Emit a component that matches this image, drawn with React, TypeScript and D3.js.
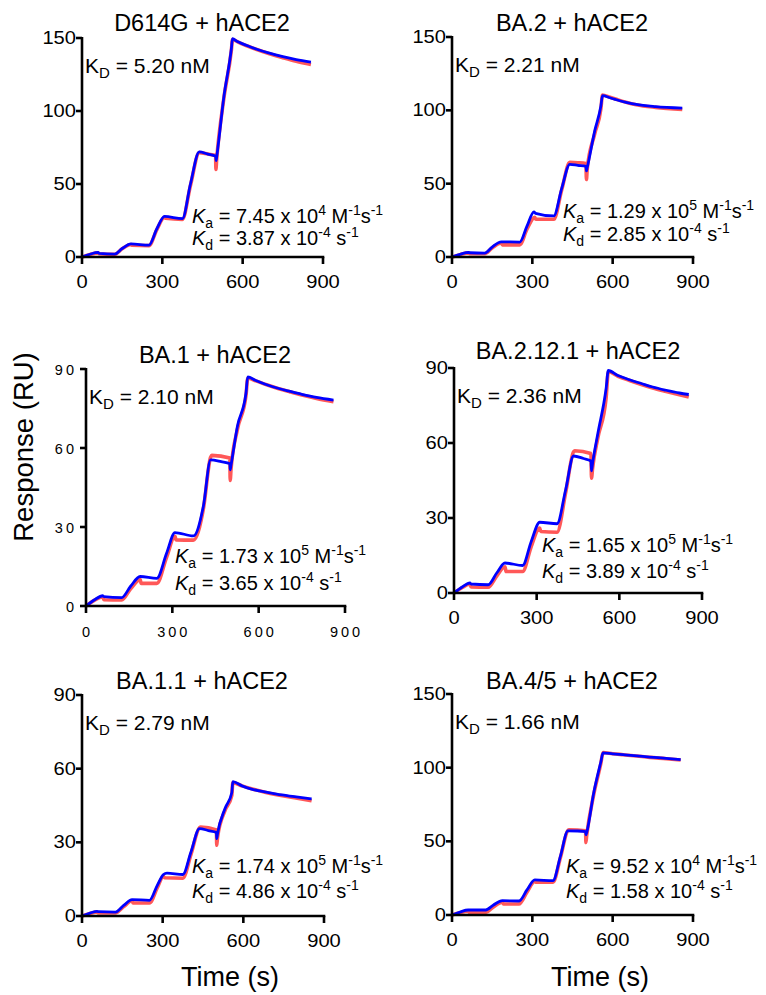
import React from "react";
import * as d3 from "d3";

// ---- chart values ----
const xTicks = [0, 300, 600, 900];
const yTicks150 = [0, 50, 100, 150];
const yTicks90 = [0, 30, 60, 90];

const titles = ["D614G + hACE2", "BA.2 + hACE2", "BA.1 + hACE2", "BA.2.12.1 + hACE2", "BA.1.1 + hACE2", "BA.4/5 + hACE2"];
const kdValues = ["5.20", "2.21", "2.10", "2.36", "2.79", "1.66"];
const kaMantissa = ["7.45", "1.29", "1.73", "1.65", "1.74", "9.52"];
const kaExponent = ["4", "5", "5", "5", "5", "4"];
const kdMantissa = ["3.87", "2.85", "3.65", "3.89", "4.86", "1.58"];
const yMaxes = [150, 150, 90, 90, 90, 150];

// [time (s), response (RU)]
const blueD614G = [[0,0],[30,1.9],[60,3.1],[64,2.5],[122,2.0],[150,5.8],[183,9.0],[250,8.1],[280,19.5],[308,27.8],[375,26.3],[405,50],[438,72],[470,70.5],[499,69],[501,66],[503,68.5],[530,110],[558,143],[562,149.5],[580,147.6],[600,146],[625,144.2],[650,142.5],[700,139.6],[750,137.2],[800,135.2],[855,133.5]];
const redD614G = [[0,0],[30,1.7],[60,2.8],[64,2.2],[122,1.8],[150,5.6],[183,8.6],[186,8.0],[250,7.8],[280,19],[308,27.2],[312,26.5],[375,25.8],[405,49],[438,71.5],[470,70.5],[499,69.5],[500,60],[503,67],[530,109],[558,142],[562,149],[580,147.5],[600,145.8],[625,144],[650,142.3],[700,139.2],[750,136.5],[800,134],[855,131.8]];

const blueBA2 = [[0,0],[30,1.8],[62,3.2],[66,2.9],[122,2.7],[150,6.8],[184,10.3],[253,10.2],[280,21],[306,30.8],[312,29.8],[380,28],[410,47],[440,63.2],[470,62.5],[500,61.8],[502,58.7],[505,61],[533,86],[556,103],[562,110],[590,108.6],[614,107.2],[650,105.5],[688,104],[760,102.5],[860,101.5]];
const redBA2 = [[0,0],[30,1.6],[62,2.8],[66,2.2],[122,2.2],[150,6.2],[184,9.5],[188,8.3],[253,8.3],[280,19],[309,27],[313,25.7],[380,25.7],[410,46],[440,64.5],[470,64.3],[500,63.8],[502,52.8],[505,60],[533,84],[556,101],[562,110.5],[590,108.9],[614,107.5],[650,105.5],[688,103.8],[760,102],[860,100.6]];

const blueBA1 = [[0,0],[30,2.4],[58,3.9],[62,3.6],[124,3.2],[155,7.5],[188,11.2],[246,10.5],[280,20],[309,27.9],[373,26.6],[408,38],[433,55.5],[470,54.8],[500,54],[501,51.7],[504,53.5],[526,68.2],[556,80.9],[562,87],[590,85.6],[628,84],[670,82.6],[709,81.5],[750,80.4],[801,79.2],[860,78.2]];
const redBA1 = [[0,0],[30,2.2],[58,3.4],[62,2.4],[124,2.3],[155,6.5],[188,10],[192,8.6],[246,8.6],[280,18.5],[309,26.5],[313,25.1],[373,25],[408,37],[433,56.5],[437,57.2],[500,56.2],[501,47.7],[504,52],[526,67],[556,80],[562,86.5],[590,85.5],[628,84],[670,82.5],[709,81.3],[750,80.1],[801,78.8],[860,77.6]];

const blueBA2121 = [[0,0],[30,2.4],[58,4.0],[62,3.6],[124,3.3],[155,8],[185,12],[249,11],[280,20.5],[311,28.3],[374,27.7],[405,41.2],[434,54.8],[470,53.8],[497,52.8],[499,48.9],[503,52],[522,63.8],[552,81.8],[560,89],[595,87],[637,85.3],[680,83.8],[721,82.4],[770,81.1],[818,80],[852,79.4]];
const redBA2121 = [[0,0],[30,2.2],[58,3.6],[62,2.4],[124,2.3],[155,6.8],[185,10.5],[189,8.6],[249,8.6],[280,18.5],[311,26],[315,24.6],[374,24.3],[405,40],[434,56.5],[438,56.9],[497,55.8],[499,45.9],[503,50],[522,62],[552,78],[560,88.5],[595,86.7],[637,85],[680,83.4],[721,82],[770,80.6],[818,79.3],[852,78.4]];

const blueBA11 = [[0,0],[30,1.2],[56,1.9],[60,1.8],[124,1.6],[155,4.3],[186,6.7],[251,6.4],[280,12.5],[303,16.9],[316,17.5],[375,16.9],[405,26],[437,35.6],[470,34.8],[500,34],[501,31.5],[504,33.5],[532,43.8],[557,50.2],[561,54.7],[595,53],[637,51.5],[680,50.5],[724,49.6],[790,48.6],[854,47.7]];
const redBA11 = [[0,0],[30,1.0],[56,1.6],[60,1.2],[124,1.2],[155,3.8],[186,6.2],[190,5.3],[251,5.3],[280,11.5],[303,16.2],[307,15.6],[375,15.4],[405,25],[437,36],[441,36.2],[500,35],[501,28.8],[504,32],[532,43],[557,49],[561,54.3],[595,53],[637,51.6],[680,50.4],[724,49.4],[790,48.2],[854,46.9]];

const blueBA45 = [[0,0],[30,2.0],[60,3.4],[126,3.4],[155,6.8],[188,9.7],[250,9.5],[280,17],[309,23.8],[377,23.3],[405,40],[433,57.1],[470,57],[499,56.6],[500,54.4],[503,56],[529,82.7],[556,104],[564,110],[600,109.4],[639,108.8],[690,108],[738,107.2],[800,106.3],[854,105.4]];
const redBA45 = [[0,0],[30,1.5],[60,2.5],[64,1.8],[126,1.8],[155,5.5],[188,8.7],[192,7.5],[250,7.5],[280,15.5],[309,22.8],[313,22.2],[377,22.2],[405,39],[433,57.5],[437,57.8],[499,57.2],[500,49.2],[503,54],[529,81.5],[556,103],[564,110.3],[600,109.5],[639,108.8],[690,107.9],[738,107],[800,106.1],[854,105.2]];

const blueSeries = [blueD614G, blueBA2, blueBA1, blueBA2121, blueBA11, blueBA45];
const redSeries = [redD614G, redBA2, redBA1, redBA2121, redBA11, redBA45];

// ---- layout (pixels) ----
const layout = [
  { x0: 82, x1: 323, top: 38, bottom: 257, titleX: 202, titleY: 31, kdX: 85, kaX: 192, kaDy: -34, kdDy: -12 },
  { x0: 452, x1: 693, top: 37, bottom: 257, titleX: 572, titleY: 31, kdX: 455, kaX: 563, kaDy: -39, kdDy: -16 },
  { x0: 86, x1: 345, top: 369, bottom: 606, titleX: 215, titleY: 363, kdX: 89, kaX: 175, kaDy: -43, kdDy: -16, spaced: true },
  { x0: 454, x1: 702, top: 368, bottom: 593, titleX: 578, titleY: 359, kdX: 457, kaX: 542, kaDy: -41, kdDy: -15 },
  { x0: 82, x1: 324, top: 695, bottom: 916, titleX: 202, titleY: 689, kdX: 85, kaX: 192, kaDy: -43, kdDy: -18 },
  { x0: 452, x1: 693, top: 694, bottom: 915, titleX: 572, titleY: 689, kdX: 455, kaX: 566, kaDy: -42, kdDy: -17 },
];

const FONT = "'Liberation Sans', Arial, Helvetica, sans-serif";
const TICK_SX = 1.15;

function Panel({ i }) {
  const L = layout[i];
  const x = d3.scaleLinear().domain([0, 900]).range([L.x0, L.x1]);
  const y = d3.scaleLinear().domain([0, yMaxes[i]]).range([L.bottom, L.top]);
  const line = d3.line().x((d) => x(d[0])).y((d) => y(d[1])).curve(d3.curveMonotoneX);
  const yTicks = yMaxes[i] === 150 ? yTicks150 : yTicks90;
  const tickFont = L.spaced ? 14.5 : 17.5;
  const spacing = L.spaced ? 3 : 0;
  const sx = L.spaced ? 1 : TICK_SX;

  return (
    <g>
      <text x={L.titleX} y={L.titleY} textAnchor="middle" fontSize={23.5}>{titles[i]}</text>

      <path d={line(redSeries[i])} fill="none" stroke="#ff3b3b" strokeOpacity={0.85} strokeWidth={3.6} strokeLinejoin="round" />
      <path d={line(blueSeries[i])} fill="none" stroke="#0000ff" strokeWidth={2.8} strokeLinejoin="round" />

      {/* axes */}
      <line x1={L.x0} x2={L.x0} y1={L.top - 1} y2={L.bottom + 1} stroke="#000" strokeWidth={2.6} />
      <line x1={L.x0 - 1} x2={L.x1 + 1.3} y1={L.bottom} y2={L.bottom} stroke="#000" strokeWidth={2.6} />
      {yTicks.map((t) => (
        <g key={"y" + t}>
          <line x1={L.x0 - 6} x2={L.x0} y1={y(t)} y2={y(t)} stroke="#000" strokeWidth={2.6} />
          <text transform={`translate(${L.x0 - 6 - spacing},${y(t) + 6}) scale(${sx},1)`} textAnchor="end" fontSize={tickFont} letterSpacing={spacing}>{t}</text>
        </g>
      ))}
      {xTicks.map((t) => (
        <g key={"x" + t}>
          <line x1={x(t)} x2={x(t)} y1={L.bottom} y2={L.bottom + 7} stroke="#000" strokeWidth={2.6} />
          <text transform={`translate(${x(t) + spacing / 2},${L.bottom + 31}) scale(${sx},1)`} textAnchor="middle" fontSize={tickFont} letterSpacing={spacing}>{t}</text>
        </g>
      ))}

      {/* constants */}
      <text x={L.kdX} y={L.top + 35} fontSize={21} style={{ whiteSpace: "pre" }}>
        <tspan>K</tspan>
        <tspan fontSize={15} dy={5}>D</tspan>
        <tspan dy={-5}>{" = " + kdValues[i] + " nM"}</tspan>
      </text>
      <text x={L.kaX} y={L.bottom + L.kaDy} fontSize={20} style={{ whiteSpace: "pre" }}>
        <tspan fontStyle="italic">K</tspan>
        <tspan fontSize={14} dy={5}>a</tspan>
        <tspan dy={-5}>{" = " + kaMantissa[i] + " x 10"}</tspan>
        <tspan fontSize={14} dy={-8}>{kaExponent[i]}</tspan>
        <tspan dy={8}>{" M"}</tspan>
        <tspan fontSize={14} dy={-8}>-1</tspan>
        <tspan dy={8}>s</tspan>
        <tspan fontSize={14} dy={-8}>-1</tspan>
      </text>
      <text x={L.kaX} y={L.bottom + L.kdDy} fontSize={20} style={{ whiteSpace: "pre" }}>
        <tspan fontStyle="italic">K</tspan>
        <tspan fontSize={14} dy={5}>d</tspan>
        <tspan dy={-5}>{" = " + kdMantissa[i] + " x 10"}</tspan>
        <tspan fontSize={14} dy={-8}>-4</tspan>
        <tspan dy={8}>{" s"}</tspan>
        <tspan fontSize={14} dy={-8}>-1</tspan>
      </text>
    </g>
  );
}

export default function App() {
  return (
    <svg width={766} height={995} style={{ position: "absolute", left: 0, top: 0, background: "#fff" }} fontFamily={FONT} fill="#000">
      {titles.map((_, i) => <Panel key={i} i={i} />)}
      <text transform="translate(33,447) rotate(-90)" textAnchor="middle" fontSize={27.5}>Response (RU)</text>
      <text x={230} y={986} textAnchor="middle" fontSize={27}>Time (s)</text>
      <text x={600} y={986} textAnchor="middle" fontSize={27}>Time (s)</text>
    </svg>
  );
}
